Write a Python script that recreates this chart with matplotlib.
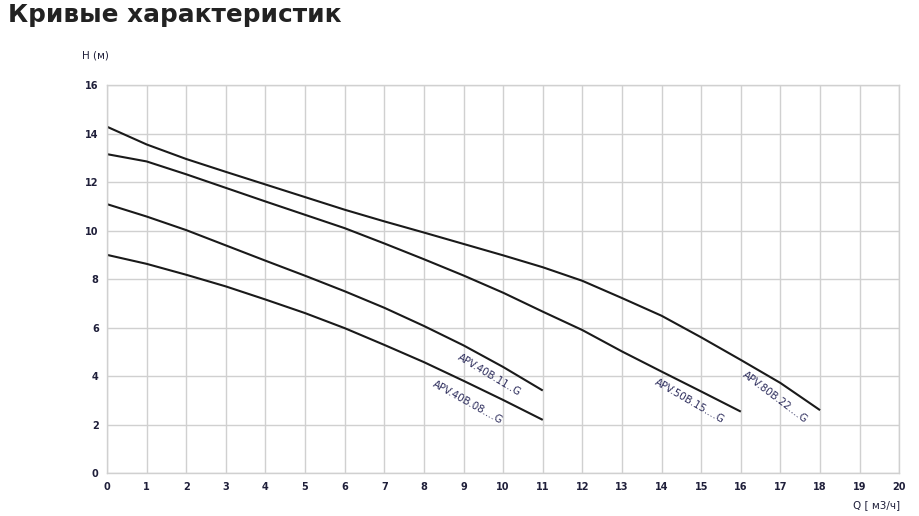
import numpy as np
import matplotlib.pyplot as plt

# flow Q (m3/h) and head H (m)
q_40b08 = [0, 1, 2, 3, 4, 5, 6, 7, 8, 9, 10, 11]
h_40b08 = [9.0, 8.63, 8.18, 7.7, 7.16, 6.6, 5.98, 5.29, 4.58, 3.81, 3.02, 2.2]

q_40b11 = [0, 1, 2, 3, 4, 5, 6, 7, 8, 9, 10, 11]
h_40b11 = [11.09, 10.58, 10.02, 9.39, 8.76, 8.14, 7.5, 6.82, 6.07, 5.27, 4.38, 3.41]

q_50b15 = [0, 1, 2, 3, 4, 5, 6, 7, 8, 9, 10, 11, 12, 13, 14, 15, 16]
h_50b15 = [13.15, 12.85, 12.32, 11.76, 11.2, 10.65, 10.1, 9.47, 8.82, 8.15,
           7.44, 6.66, 5.9, 5.02, 4.19, 3.37, 2.54]

q_80b22 = [0, 1, 2, 3, 4, 5, 6, 7, 8, 9, 10, 11, 12, 13, 14, 15, 16, 17, 18]
h_80b22 = [14.28, 13.55, 12.95, 12.42, 11.9, 11.38, 10.86, 10.38, 9.92, 9.45,
           8.98, 8.49, 7.93, 7.22, 6.49, 5.6, 4.67, 3.72, 2.6]

names = ["APV.40B.08....G", "APV.40B.11..G", "APV.50B.15....G", "APV.80B.22....G"]
x_ticks = list(range(0, 21))
y_ticks = [0, 2, 4, 6, 8, 10, 12, 14, 16]

fig = plt.figure(figsize=(9.2, 5.16), dpi=100)
ax = fig.add_axes([0.1163, 0.0828, 0.8612, 0.7525])

for q, h in [(q_40b08, h_40b08), (q_40b11, h_40b11), (q_50b15, h_50b15), (q_80b22, h_80b22)]:
    ax.plot(q, h, color='#1a1a1a', lw=1.5, solid_capstyle='butt', solid_joinstyle='round')

ax.set_xlim(0, 20)
ax.set_ylim(0, 16)
ax.set_xticks(x_ticks)
ax.set_yticks(y_ticks)
ax.grid(True, color='#d0d0d0', lw=1.0)
ax.set_axisbelow(True)
for s in ax.spines.values():
    s.set_color('#d0d0d0')
    s.set_linewidth(1.0)
ax.tick_params(length=0, pad=6, labelsize=7, labelcolor='#1f1f3a')
for t in ax.get_xticklabels() + ax.get_yticklabels():
    t.set_fontweight('bold')

# curve labels, rotated along the lines
lab_col = '#2a2a5a'
ax.text(9.1, 2.94, names[0], rotation=-29, fontsize=7.3, color=lab_col, ha='center', va='center')
ax.text(9.65, 4.05, names[1], rotation=-31, fontsize=7.3, color=lab_col, ha='center', va='center')
ax.text(14.7, 2.98, names[2], rotation=-30, fontsize=7.3, color=lab_col, ha='center', va='center')
ax.text(16.87, 3.15, names[3], rotation=-37, fontsize=7.3, color=lab_col, ha='center', va='center')

fig.text(8 / 920, 1 - 15 / 516, "Кривые характеристик", fontsize=17.8, fontweight='bold',
         color='#222222', ha='left', va='center')
fig.text(82 / 920, 1 - 56 / 516, "H (м)", fontsize=7.5, color='#1f1f3a', ha='left', va='center')
fig.text(900 / 920, 1 - 505 / 516, "Q [ м3/ч]", fontsize=7.5, color='#1f1f3a', ha='right', va='center')

fig.savefig("out.png", dpi=100)
